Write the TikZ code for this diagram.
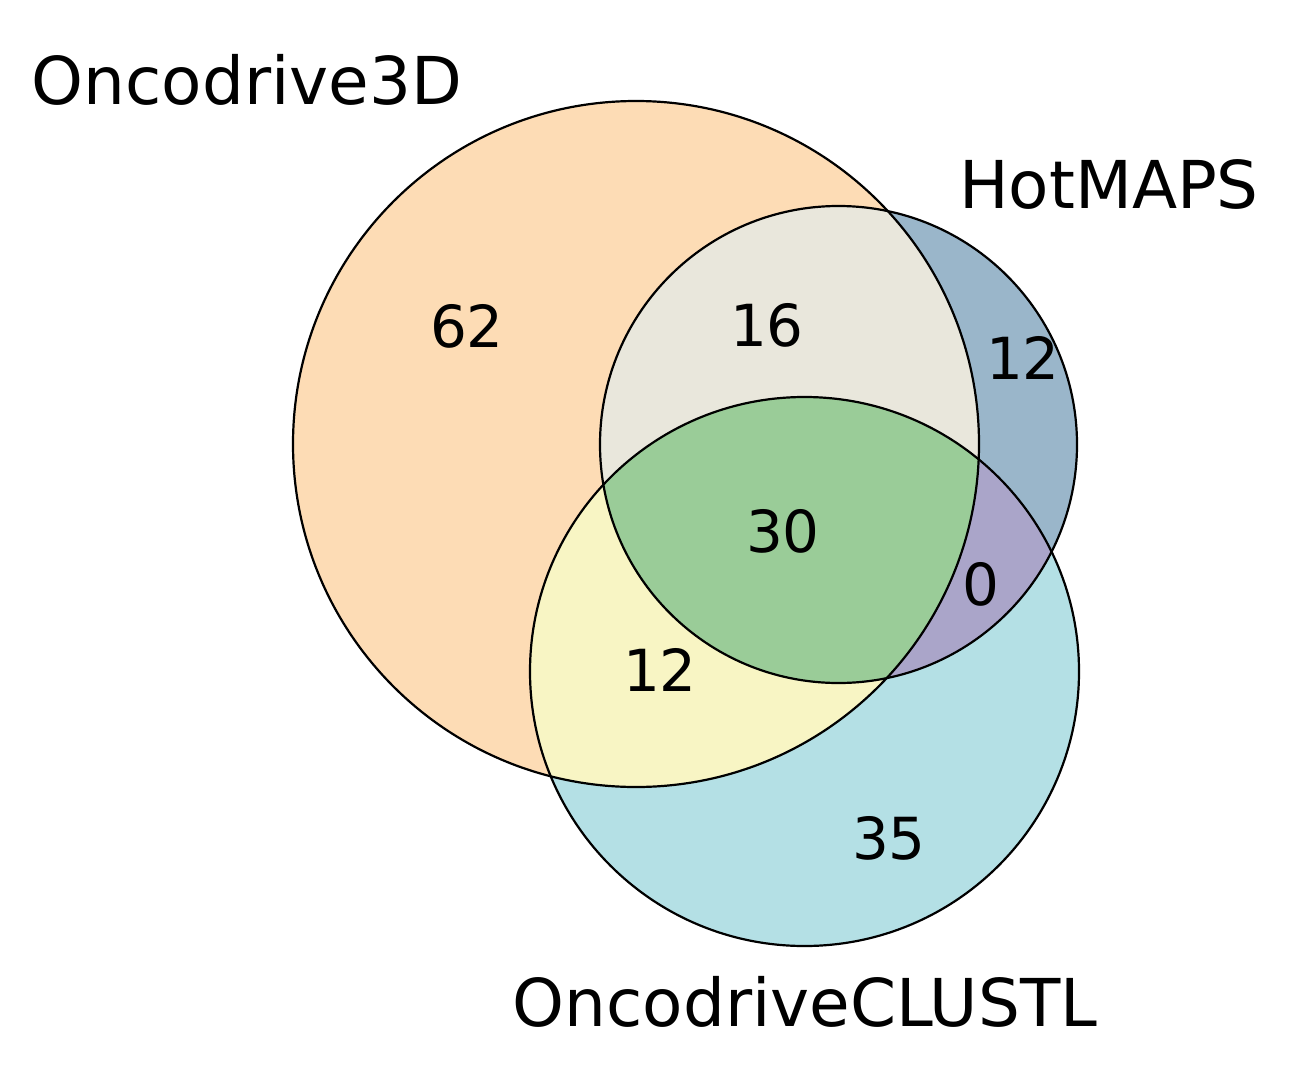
\documentclass[tikz,border=0pt]{standalone}
\usepackage{fontspec}
\setmainfont{DejaVu Sans}
\definecolor{cA}{RGB}{253,220,181}
\definecolor{cB}{RGB}{154,182,202}
\definecolor{cC}{RGB}{180,224,229}
\definecolor{cAB}{RGB}{233,231,220}
\definecolor{cAC}{RGB}{248,245,196}
\definecolor{cBC}{RGB}{170,165,201}
\definecolor{cABC}{RGB}{154,204,152}
\begin{document}
\begin{tikzpicture}[x=1pt,y=-1pt,
  lbl/.style={font=\fontsize{66}{70}\selectfont, anchor=base, inner sep=0pt},
  num/.style={font=\fontsize{58}{62}\selectfont, anchor=base, inner sep=0pt},
  outline/.style={draw=black, line width=2.2pt}]
\useasboundingbox (0,0) rectangle (1290,1068);
\def\circA{(636,444) circle [radius=343pt]}
\def\circB{(838.5,444.5) circle [radius=238.5pt]}
\def\circC{(804.5,671.5) circle [radius=274.5pt]}
\fill[cA] \circA;
\fill[cB] \circB;
\fill[cC] \circC;
\begin{scope}\clip \circA; \fill[cAB] \circB; \fill[cAC] \circC; \end{scope}
\begin{scope}\clip \circB; \fill[cBC] \circC; \end{scope}
\begin{scope}\clip \circA; \clip \circB; \fill[cABC] \circC; \end{scope}
\draw[outline] \circA;
\draw[outline] \circB;
\draw[outline] \circC;
\node[lbl] (labA) at (247,104) {Oncodrive3D};
\node[lbl] (labB) at (1109,208) {HotMAPS};
\node[lbl] (labC) at (805,1026) {OncodriveCLUSTL};
\node[num] (nA) at (467,347) {62};
\node[num] (nAB) at (767,346) {16};
\node[num] (nB) at (1023,379) {12};
\node[num] (nABC) at (783,552) {30};
\node[num] (nBC) at (981,605) {0};
\node[num] (nAC) at (660,691) {12};
\node[num] (nC) at (889,859) {35};
\end{tikzpicture}
\end{document}
